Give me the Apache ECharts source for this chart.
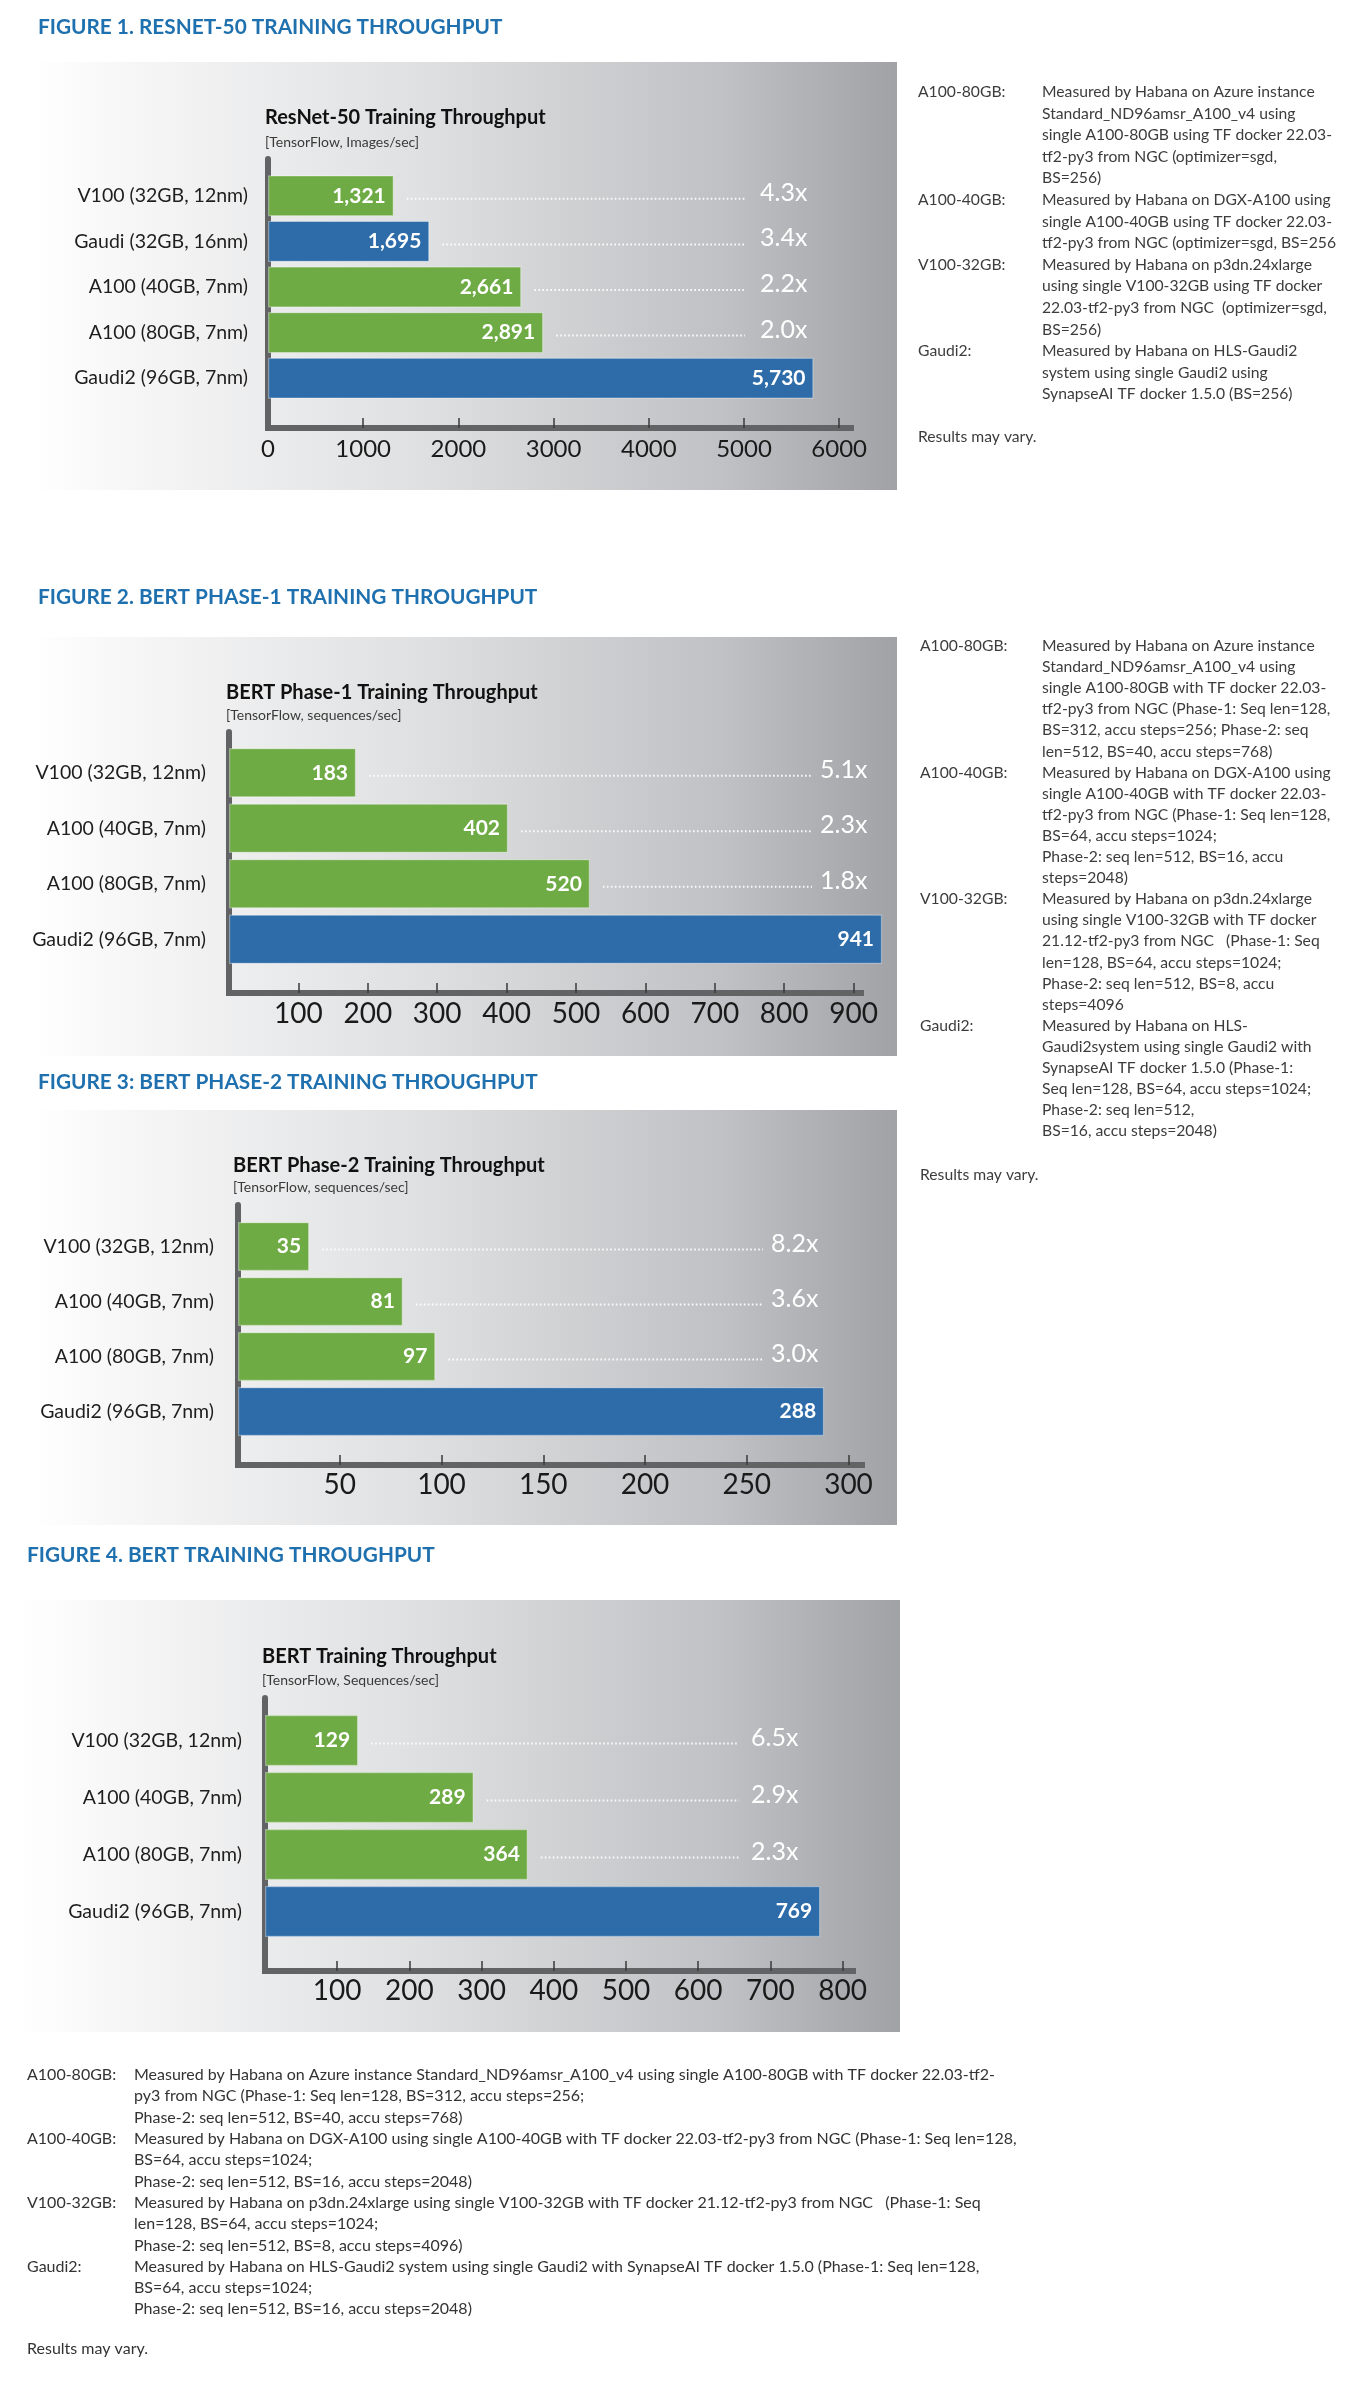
<!DOCTYPE html>
<html><head><meta charset="utf-8">
<script src="https://cdn.jsdelivr.net/npm/echarts@6/dist/echarts.min.js"></script>
<style>html,body{margin:0;padding:0;background:#fff}#c{width:1350px;height:2390px}</style>
</head><body><div id="c"></div>
<script>
// ---------------- DATA ----------------
const fig1Heading = 'FIGURE 1. RESNET-50 TRAINING THROUGHPUT';
const fig1Title = 'ResNet-50 Training Throughput';
const fig1Subtitle = '[TensorFlow, Images/sec]';
const fig1Categories = ['V100 (32GB, 12nm)', 'Gaudi (32GB, 16nm)', 'A100 (40GB, 7nm)', 'A100 (80GB, 7nm)', 'Gaudi2 (96GB, 7nm)'];
const fig1Values = [1321, 1695, 2661, 2891, 5730];
const fig1Ratios = ['4.3x', '3.4x', '2.2x', '2.0x', ''];
const fig1TickLabels = [0, 1000, 2000, 3000, 4000, 5000, 6000];

const fig2Heading = 'FIGURE 2. BERT PHASE-1 TRAINING THROUGHPUT';
const fig2Title = 'BERT Phase-1 Training Throughput';
const fig2Subtitle = '[TensorFlow, sequences/sec]';
const fig2Categories = ['V100 (32GB, 12nm)', 'A100 (40GB, 7nm)', 'A100 (80GB, 7nm)', 'Gaudi2 (96GB, 7nm)'];
const fig2Values = [183, 402, 520, 941];
const fig2Ratios = ['5.1x', '2.3x', '1.8x', ''];
const fig2TickLabels = [100, 200, 300, 400, 500, 600, 700, 800, 900];

const fig3Heading = 'FIGURE 3: BERT PHASE-2 TRAINING THROUGHPUT';
const fig3Title = 'BERT Phase-2 Training Throughput';
const fig3Subtitle = '[TensorFlow, sequences/sec]';
const fig3Categories = ['V100 (32GB, 12nm)', 'A100 (40GB, 7nm)', 'A100 (80GB, 7nm)', 'Gaudi2 (96GB, 7nm)'];
const fig3Values = [35, 81, 97, 288];
const fig3Ratios = ['8.2x', '3.6x', '3.0x', ''];
const fig3TickLabels = [50, 100, 150, 200, 250, 300];

const fig4Heading = 'FIGURE 4. BERT TRAINING THROUGHPUT';
const fig4Title = 'BERT Training Throughput';
const fig4Subtitle = '[TensorFlow, Sequences/sec]';
const fig4Categories = ['V100 (32GB, 12nm)', 'A100 (40GB, 7nm)', 'A100 (80GB, 7nm)', 'Gaudi2 (96GB, 7nm)'];
const fig4Values = [129, 289, 364, 769];
const fig4Ratios = ['6.5x', '2.9x', '2.3x', ''];
const fig4TickLabels = [100, 200, 300, 400, 500, 600, 700, 800];

const notes1 = [
  ['A100-80GB:', ['Measured by Habana on Azure instance', 'Standard_ND96amsr_A100_v4 using', 'single A100-80GB using TF docker 22.03-', 'tf2-py3 from NGC (optimizer=sgd,', 'BS=256)']],
  ['A100-40GB:', ['Measured by Habana on DGX-A100 using', 'single A100-40GB using TF docker 22.03-', 'tf2-py3 from NGC (optimizer=sgd, BS=256']],
  ['V100-32GB:', ['Measured by Habana on p3dn.24xlarge', 'using single V100-32GB using TF docker', '22.03-tf2-py3 from NGC  (optimizer=sgd,', 'BS=256)']],
  ['Gaudi2:', ['Measured by Habana on HLS-Gaudi2', 'system using single Gaudi2 using', 'SynapseAI TF docker 1.5.0 (BS=256)']]
];
const notes2 = [
  ['A100-80GB:', ['Measured by Habana on Azure instance', 'Standard_ND96amsr_A100_v4 using', 'single A100-80GB with TF docker 22.03-', 'tf2-py3 from NGC (Phase-1: Seq len=128,', 'BS=312, accu steps=256; Phase-2: seq', 'len=512, BS=40, accu steps=768)']],
  ['A100-40GB:', ['Measured by Habana on DGX-A100 using', 'single A100-40GB with TF docker 22.03-', 'tf2-py3 from NGC (Phase-1: Seq len=128,', 'BS=64, accu steps=1024;', 'Phase-2: seq len=512, BS=16, accu', 'steps=2048)']],
  ['V100-32GB:', ['Measured by Habana on p3dn.24xlarge', 'using single V100-32GB with TF docker', '21.12-tf2-py3 from NGC   (Phase-1: Seq', 'len=128, BS=64, accu steps=1024;', 'Phase-2: seq len=512, BS=8, accu', 'steps=4096']],
  ['Gaudi2:', ['Measured by Habana on HLS-', 'Gaudi2system using single Gaudi2 with', 'SynapseAI TF docker 1.5.0 (Phase-1:', 'Seq len=128, BS=64, accu steps=1024;', 'Phase-2: seq len=512,', 'BS=16, accu steps=2048)']]
];
const notes4 = [
  ['A100-80GB:', ['Measured by Habana on Azure instance Standard_ND96amsr_A100_v4 using single A100-80GB with TF docker 22.03-tf2-', 'py3 from NGC (Phase-1: Seq len=128, BS=312, accu steps=256;', 'Phase-2: seq len=512, BS=40, accu steps=768)']],
  ['A100-40GB:', ['Measured by Habana on DGX-A100 using single A100-40GB with TF docker 22.03-tf2-py3 from NGC (Phase-1: Seq len=128,', 'BS=64, accu steps=1024;', 'Phase-2: seq len=512, BS=16, accu steps=2048)']],
  ['V100-32GB:', ['Measured by Habana on p3dn.24xlarge using single V100-32GB with TF docker 21.12-tf2-py3 from NGC   (Phase-1: Seq', 'len=128, BS=64, accu steps=1024;', 'Phase-2: seq len=512, BS=8, accu steps=4096)']],
  ['Gaudi2:', ['Measured by Habana on HLS-Gaudi2 system using single Gaudi2 with SynapseAI TF docker 1.5.0 (Phase-1: Seq len=128,', 'BS=64, accu steps=1024;', 'Phase-2: seq len=512, BS=16, accu steps=2048)']]
];
const resultsNote = 'Results may vary.';

// ---------------- LAYOUT ----------------
const FONT = 'Lato, "Open Sans", "DejaVu Sans", sans-serif';
const GREEN = '#6fab45';
const BLUE = '#2d6ca9';
const HEAD_BLUE = '#1f70ae';

const figures = [
  { heading: fig1Heading, title: fig1Title, sub: fig1Subtitle, cats: fig1Categories, vals: fig1Values, ratios: fig1Ratios, ticks: fig1TickLabels,
    L: { headX: 38, headY: 27, panel: [30, 62, 867, 428], titleX: 265, titleY: 118, subY: 142,
         left: 268, ppu: 0.0952, frameTop: 159, frameBottom: 428, frameEnd: 851, barTop: 173, band: 45.6, gap: '10%',
         catMargin: 20, tickFont: 24, tickMargin: 9, lineEnd: 745, textX: 760 } },
  { heading: fig2Heading, title: fig2Title, sub: fig2Subtitle, cats: fig2Categories, vals: fig2Values, ratios: fig2Ratios, ticks: fig2TickLabels,
    L: { headX: 38, headY: 597, panel: [30, 637, 867, 419], titleX: 226, titleY: 693, subY: 715,
         left: 229, ppu: 0.694, frameTop: 732, frameBottom: 993, frameEnd: 861, barTop: 745, band: 55.5, gap: '11%',
         catMargin: 23, tickFont: 28, tickMargin: 7, lineEnd: 812, textX: 820 } },
  { heading: fig3Heading, title: fig3Title, sub: fig3Subtitle, cats: fig3Categories, vals: fig3Values, ratios: fig3Ratios, ticks: fig3TickLabels,
    L: { headX: 38, headY: 1082, panel: [30, 1110, 867, 415], titleX: 233, titleY: 1166, subY: 1187,
         left: 238, ppu: 2.035, frameTop: 1205, frameBottom: 1465, frameEnd: 862, barTop: 1219, band: 55, gap: '11%',
         catMargin: 24, tickFont: 28, tickMargin: 6, lineEnd: 763, textX: 771 } },
  { heading: fig4Heading, title: fig4Title, sub: fig4Subtitle, cats: fig4Categories, vals: fig4Values, ratios: fig4Ratios, ticks: fig4TickLabels,
    L: { headX: 27, headY: 1555, panel: [18, 1600, 882, 432], titleX: 262, titleY: 1657, subY: 1680,
         left: 265, ppu: 0.722, frameTop: 1698, frameBottom: 1971, frameEnd: 853, barTop: 1712, band: 57, gap: '10.5%',
         catMargin: 23, tickFont: 28, tickMargin: 6, lineEnd: 739, textX: 751 } }
];

const AXIS_COLOR = '#626365';
const grid = [], xAxis = [], yAxis = [], series = [], graphic = [];

figures.forEach((f, i) => {
  const L = f.L;
  const frameMax = (L.frameEnd - L.left) / L.ppu;
  const barsMax = frameMax * 1.2;
  const n = f.cats.length;
  const gA = grid.length;
  grid.push({ left: L.left, top: L.barTop, width: L.ppu * barsMax, height: L.band * n, containLabel: false });
  grid.push({ left: L.left, top: L.frameTop, width: L.ppu * frameMax, height: L.frameBottom - L.frameTop, containLabel: false });

  // bar axes
  xAxis.push({ gridIndex: gA, type: 'value', min: 0, max: barsMax, show: false });
  yAxis.push({ gridIndex: gA, type: 'category', inverse: true, data: f.cats,
    axisLine: { show: false }, axisTick: { show: false }, splitLine: { show: false },
    axisLabel: { margin: L.catMargin, fontFamily: FONT, fontSize: 19.5, color: '#1e1e1e' } });
  // frame axes
  const tickVals = f.ticks.filter(v => v !== 0);
  xAxis.push({ gridIndex: gA + 1, type: 'value', min: 0, max: frameMax,
    axisLine: { show: true, lineStyle: { color: AXIS_COLOR, width: 6, cap: 'square' } },
    axisTick: { show: true, inside: true, length: 10, customValues: tickVals, lineStyle: { color: '#3a3a3a', width: 1.5 } },
    axisLabel: { show: true, customValues: f.ticks, margin: L.tickMargin, fontFamily: FONT, fontSize: L.tickFont, color: '#1a1a1a',
      formatter: v => String(v) },
    splitLine: { show: false } });
  yAxis.push({ gridIndex: gA + 1, type: 'value', min: 0, max: 1,
    axisLine: { show: true, lineStyle: { color: AXIS_COLOR, width: 6, cap: 'round' } },
    axisTick: { show: false }, axisLabel: { show: false }, splitLine: { show: false } });

  series.push({
    type: 'bar', xAxisIndex: gA, yAxisIndex: gA, barCategoryGap: L.gap,
    data: f.vals.map((v, j) => ({ value: v, itemStyle: { color: f.cats[j].startsWith('Gaudi') ? BLUE : GREEN } })),
    itemStyle: { borderColor: 'rgba(255,255,255,0.35)', borderWidth: 1.2 },
    label: { show: true, position: 'insideRight', distance: 8, color: '#fff', fontFamily: FONT, fontWeight: 'bold', fontSize: 21,
      formatter: p => p.value.toLocaleString('en-US') },
    z: 3
  });

  const lineEndVal = (L.lineEnd - L.left) / L.ppu;
  const textVal = (L.textX - L.left) / L.ppu;
  const ratios = f.ratios;
  series.push({
    type: 'custom', xAxisIndex: gA, yAxisIndex: gA,
    data: f.vals.map((v, j) => [v, j]),
    encode: { x: 0, y: 1 },
    z: 4,
    renderItem: (params, api) => {
      const r = ratios[params.dataIndex];
      if (!r) return null;
      const end = api.coord([api.value(0), api.value(1)]);
      const le = api.coord([lineEndVal, api.value(1)]);
      const tp = api.coord([textVal, api.value(1)]);
      return { type: 'group', children: [
        { type: 'line', shape: { x1: end[0] + 13, y1: end[1] + 3, x2: le[0], y2: end[1] + 3 },
          style: { stroke: 'rgba(255,255,255,0.92)', lineWidth: 2, lineDash: [1.6, 2.4] } },
        { type: 'text', x: tp[0], y: tp[1] - 3,
          style: { text: r, fill: '#ffffff', font: '25px ' + FONT, verticalAlign: 'middle', align: 'left' } }
      ] };
    }
  });

  // panel background
  const P = L.panel;
  graphic.push({ type: 'rect', z: -100, shape: { x: P[0], y: P[1], width: P[2], height: P[3] },
    style: { fill: { type: 'linear', x: 0, y: 0, x2: 1, y2: 0, colorStops: [
      { offset: 0, color: '#ffffff' }, { offset: 0.12, color: '#f6f6f7' }, { offset: 0.45, color: '#dfe0e1' },
      { offset: 0.8, color: '#c0c1c4' }, { offset: 1, color: '#a0a2a5' } ] } }, silent: true });
  graphic.push({ type: 'text', x: L.headX, y: L.headY, style: { text: f.heading, fill: HEAD_BLUE, font: 'bold 20.8px ' + FONT, verticalAlign: 'middle' } });
  graphic.push({ type: 'text', x: L.titleX, y: L.titleY, style: { text: f.title, fill: '#111', font: 'bold 20px ' + FONT, verticalAlign: 'middle' } });
  graphic.push({ type: 'text', x: L.titleX, y: L.subY, style: { text: f.sub, fill: '#3a3a3a', font: '14px ' + FONT, verticalAlign: 'middle' } });
});

// notes
function addNotes(notes, labelX, textX, firstY, lh, font, color) {
  let k = 0;
  notes.forEach(([lab, lines]) => {
    graphic.push({ type: 'text', x: labelX, y: firstY + k * lh, style: { text: lab, fill: color, font: font, verticalAlign: 'middle' } });
    lines.forEach(t => {
      graphic.push({ type: 'text', x: textX, y: firstY + k * lh, style: { text: t, fill: color, font: font, verticalAlign: 'middle' } });
      k++;
    });
  });
}
const NOTE_FONT = '15.7px ' + FONT;
const NOTE_FONT_WIDE = '16px ' + FONT;
addNotes(notes1, 918, 1042, 92, 21.6, NOTE_FONT, '#3c3c3c');
graphic.push({ type: 'text', x: 918, y: 437, style: { text: resultsNote, fill: '#3c3c3c', font: NOTE_FONT, verticalAlign: 'middle' } });
addNotes(notes2, 920, 1042, 646, 21.1, NOTE_FONT, '#3c3c3c');
graphic.push({ type: 'text', x: 920, y: 1175, style: { text: resultsNote, fill: '#3c3c3c', font: NOTE_FONT, verticalAlign: 'middle' } });
addNotes(notes4, 27, 134, 2075, 21.3, NOTE_FONT_WIDE, '#333');
graphic.push({ type: 'text', x: 27, y: 2349, style: { text: resultsNote, fill: '#333', font: NOTE_FONT_WIDE, verticalAlign: 'middle' } });

const chart = echarts.init(document.getElementById('c'), null, { renderer: 'canvas', width: 1350, height: 2390 });
chart.setOption({
  animation: false,
  backgroundColor: '#ffffff',
  grid, xAxis, yAxis, series,
  graphic: { elements: graphic }
});
</script>
</body></html>
